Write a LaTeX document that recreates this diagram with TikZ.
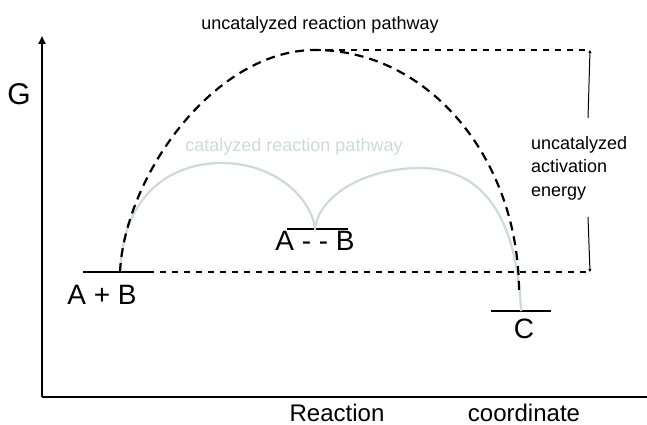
\documentclass[tikz,border=0pt]{standalone}
\usepackage{fontspec}
\setmainfont{Liberation Sans}
\usetikzlibrary{arrows.meta}
\definecolor{catgray}{RGB}{205,218,218}
\begin{document}
\begin{tikzpicture}[x=1pt,y=-1pt,
  axis/.style={line width=2pt,-{Triangle[length=8pt,width=7pt]}},
  bar/.style={line width=2pt},
  uncat/.style={line width=2.2pt,dash pattern=on 9pt off 6pt},
  dotline/.style={line width=2pt,dash pattern=on 6pt off 6pt},
  catpath/.style={line width=2.2pt,catgray},
  bigtxt/.style={font=\fontsize{28}{30}\selectfont,inner sep=0pt},
  smalltxt/.style={font=\fontsize{18}{23.5}\selectfont,inner sep=0pt},
  axtxt/.style={font=\fontsize{24}{26}\selectfont,inner sep=0pt,anchor=base},
  measure/.style={line width=1pt,-{Triangle[length=3pt,width=3pt]}}]
\useasboundingbox (0,0) rectangle (647,425);
% axes
\coordinate (O) at (42,397);
\coordinate (ytop) at (42,36);
\coordinate (xend) at (650,397);
\draw[axis] (O) -- (ytop);
\draw[line width=2pt] (O) -- (xend);
\node[font=\fontsize{30}{32}\selectfont,inner sep=0pt] (G) at (19,94) {G};
\node[axtxt] (rx) at (337,421) {Reaction};
\node[axtxt] (co) at (524,421) {coordinate};
% energy levels
\coordinate (ab1) at (83,272); \coordinate (ab2) at (148,272);
\draw[bar] (ab1) -- (ab2);
\node[bigtxt] (AB) at (102,295) {A + B};
\coordinate (ts1) at (287,229); \coordinate (ts2) at (348,229);
\draw[bar] (ts1) -- (ts2);
\node[bigtxt] (ATB) at (315,241) {A - - B};
\coordinate (c1) at (491,311); \coordinate (c2) at (551,311);
\draw[bar] (c1) -- (c2);
\node[bigtxt] (C) at (524,329) {C};
% dotted reference lines
\coordinate (peak) at (315,50);
\coordinate (topR) at (590,50);
\coordinate (botL) at (148,272);
\coordinate (botR) at (590,272);
\draw[dotline] (peak) -- (topR);
\draw[dotline] (botL) -- (botR);
% activation energy measure
\node[smalltxt,align=left,anchor=west] (act) at (531,168) {uncatalyzed\\activation\\energy};
\coordinate (m1) at (588,118); \coordinate (m2) at (588,217);
\draw[measure] (m1) -- (topR);
\draw[measure] (m2) -- (botR);
% catalyzed pathway
\coordinate (start) at (120,272);
\coordinate (cusp) at (315,228);
\coordinate (endC) at (521,311);
\draw[catpath] (start) .. controls (123,195) and (170,163) .. (222,163)
   .. controls (272,163) and (310,195) .. (cusp)
   .. controls (320,195) and (365,168) .. (420,168)
   .. controls (485,168) and (517,220) .. (endC);
\node[smalltxt,text=catgray] (catl) at (294,147) {catalyzed reaction pathway};
% uncatalyzed pathway
\coordinate (endU) at (519,292);
\draw[uncat] (start) .. controls (125,175) and (215,50) .. (peak)
   .. controls (428,50) and (519,158) .. (endU);
\node[smalltxt] (uncl) at (320,25) {uncatalyzed reaction pathway};
\end{tikzpicture}
\end{document}
